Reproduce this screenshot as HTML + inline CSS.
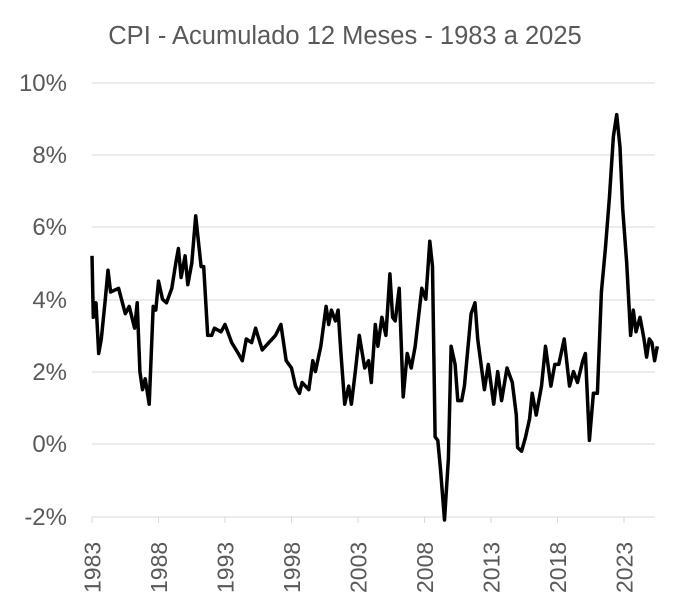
<!DOCTYPE html>
<html><head><meta charset="utf-8"><style>
body{margin:0;background:#fff;}
svg text{font-family:"Liberation Sans",sans-serif;fill:#595959;}
</style></head><body>
<svg width="689" height="608" xmlns="http://www.w3.org/2000/svg">
<rect width="689" height="608" fill="#fff"/>
<text x="345" y="44" font-size="25.5" text-anchor="middle">CPI - Acumulado 12 Meses - 1983 a 2025</text>
<g stroke="#d9d9d9" stroke-width="1">
<line x1="92" x2="655" y1="83" y2="83"/>
<line x1="92" x2="655" y1="155" y2="155"/>
<line x1="92" x2="655" y1="227" y2="227"/>
<line x1="92" x2="655" y1="300" y2="300"/>
<line x1="92" x2="655" y1="372" y2="372"/>
<line x1="92" x2="655" y1="444" y2="444"/>
<line x1="92" x2="655" y1="517" y2="517"/>
<line x1="92" x2="92" y1="517" y2="523"/>
<line x1="158.5" x2="158.5" y1="517" y2="523"/>
<line x1="225" x2="225" y1="517" y2="523"/>
<line x1="291.5" x2="291.5" y1="517" y2="523"/>
<line x1="358" x2="358" y1="517" y2="523"/>
<line x1="424.5" x2="424.5" y1="517" y2="523"/>
<line x1="491" x2="491" y1="517" y2="523"/>
<line x1="557.5" x2="557.5" y1="517" y2="523"/>
<line x1="624" x2="624" y1="517" y2="523"/>
</g>
<g font-size="24" text-anchor="end">
<text x="67" y="91">10%</text>
<text x="67" y="163">8%</text>
<text x="67" y="235">6%</text>
<text x="67" y="308">4%</text>
<text x="67" y="380">2%</text>
<text x="67" y="452">0%</text>
<text x="67" y="525">-2%</text>
</g>
<g font-size="23">
<text transform="translate(100.5,593) rotate(-90)">1983</text>
<text transform="translate(167,593) rotate(-90)">1988</text>
<text transform="translate(233.5,593) rotate(-90)">1993</text>
<text transform="translate(300,593) rotate(-90)">1998</text>
<text transform="translate(366.5,593) rotate(-90)">2003</text>
<text transform="translate(433,593) rotate(-90)">2008</text>
<text transform="translate(499.5,593) rotate(-90)">2013</text>
<text transform="translate(566,593) rotate(-90)">2018</text>
<text transform="translate(632.5,593) rotate(-90)">2023</text>
</g>
<polyline id="ln" fill="none" stroke="#000" stroke-width="3.5" stroke-linejoin="round"/>
</svg>
<script>
var d=[1983.0,5.2,1983.1,3.5,1983.3,3.9,1983.5,2.5,1983.7,2.9,1984.0,4.0,1984.2,4.8,1984.4,4.2,1985.0,4.3,1985.5,3.6,1985.8,3.8,1986.2,3.2,1986.4,3.9,1986.6,2.0,1986.8,1.5,1987.0,1.8,1987.3,1.1,1987.6,3.8,1987.8,3.7,1988.0,4.5,1988.3,4.0,1988.6,3.9,1989.0,4.3,1989.3,5.0,1989.5,5.4,1989.7,4.6,1990.0,5.2,1990.2,4.4,1990.5,5.0,1990.8,6.3,1991.2,4.9,1991.4,4.9,1991.7,3.0,1992.0,3.0,1992.2,3.2,1992.7,3.1,1993.0,3.3,1993.5,2.8,1994.0,2.5,1994.3,2.3,1994.6,2.9,1995.0,2.8,1995.3,3.2,1995.8,2.6,1996.3,2.8,1996.8,3.0,1997.2,3.3,1997.6,2.3,1998.0,2.1,1998.3,1.6,1998.6,1.4,1998.8,1.7,1999.3,1.5,1999.6,2.3,1999.8,2.0,2000.2,2.7,2000.6,3.8,2000.8,3.3,2001.0,3.7,2001.3,3.4,2001.5,3.7,2001.7,2.6,2002.0,1.1,2002.3,1.6,2002.5,1.1,2002.8,2.0,2003.1,3.0,2003.5,2.1,2003.8,2.3,2004.0,1.7,2004.3,3.3,2004.5,2.7,2004.8,3.5,2005.1,3.0,2005.4,4.7,2005.6,3.5,2005.8,3.4,2006.1,4.3,2006.4,1.3,2006.7,2.5,2007.0,2.1,2007.3,2.7,2007.8,4.3,2008.1,4.0,2008.4,5.6,2008.6,4.9,2008.8,0.2,2009.0,0.1,2009.2,-0.7,2009.5,-2.1,2009.8,-0.4,2010.0,2.7,2010.3,2.2,2010.5,1.2,2010.8,1.2,2011.0,1.6,2011.5,3.6,2011.8,3.9,2012.0,2.9,2012.5,1.5,2012.8,2.2,2013.2,1.1,2013.5,2.0,2013.8,1.2,2014.2,2.1,2014.6,1.7,2014.9,0.8,2015.0,-0.1,2015.3,-0.2,2015.6,0.2,2015.9,0.7,2016.1,1.4,2016.4,0.8,2016.8,1.6,2017.1,2.7,2017.5,1.6,2017.8,2.2,2018.1,2.2,2018.5,2.9,2018.9,1.6,2019.2,2.0,2019.5,1.7,2019.9,2.3,2020.1,2.5,2020.4,0.1,2020.7,1.4,2021.0,1.4,2021.3,4.2,2021.6,5.4,2021.9,6.8,2022.2,8.5,2022.45,9.1,2022.7,8.2,2022.9,6.5,2023.2,5.0,2023.5,3.0,2023.7,3.7,2023.9,3.1,2024.2,3.5,2024.5,2.9,2024.7,2.4,2024.9,2.9,2025.1,2.8,2025.3,2.3,2025.5,2.7];
var p=[];for(var i=0;i<d.length;i+=2){p.push((92+(d[i]-1983)*13.3).toFixed(1)+","+(444-d[i+1]*36.2).toFixed(1));}
document.getElementById("ln").setAttribute("points",p.join(" "));
</script>
</body></html>
